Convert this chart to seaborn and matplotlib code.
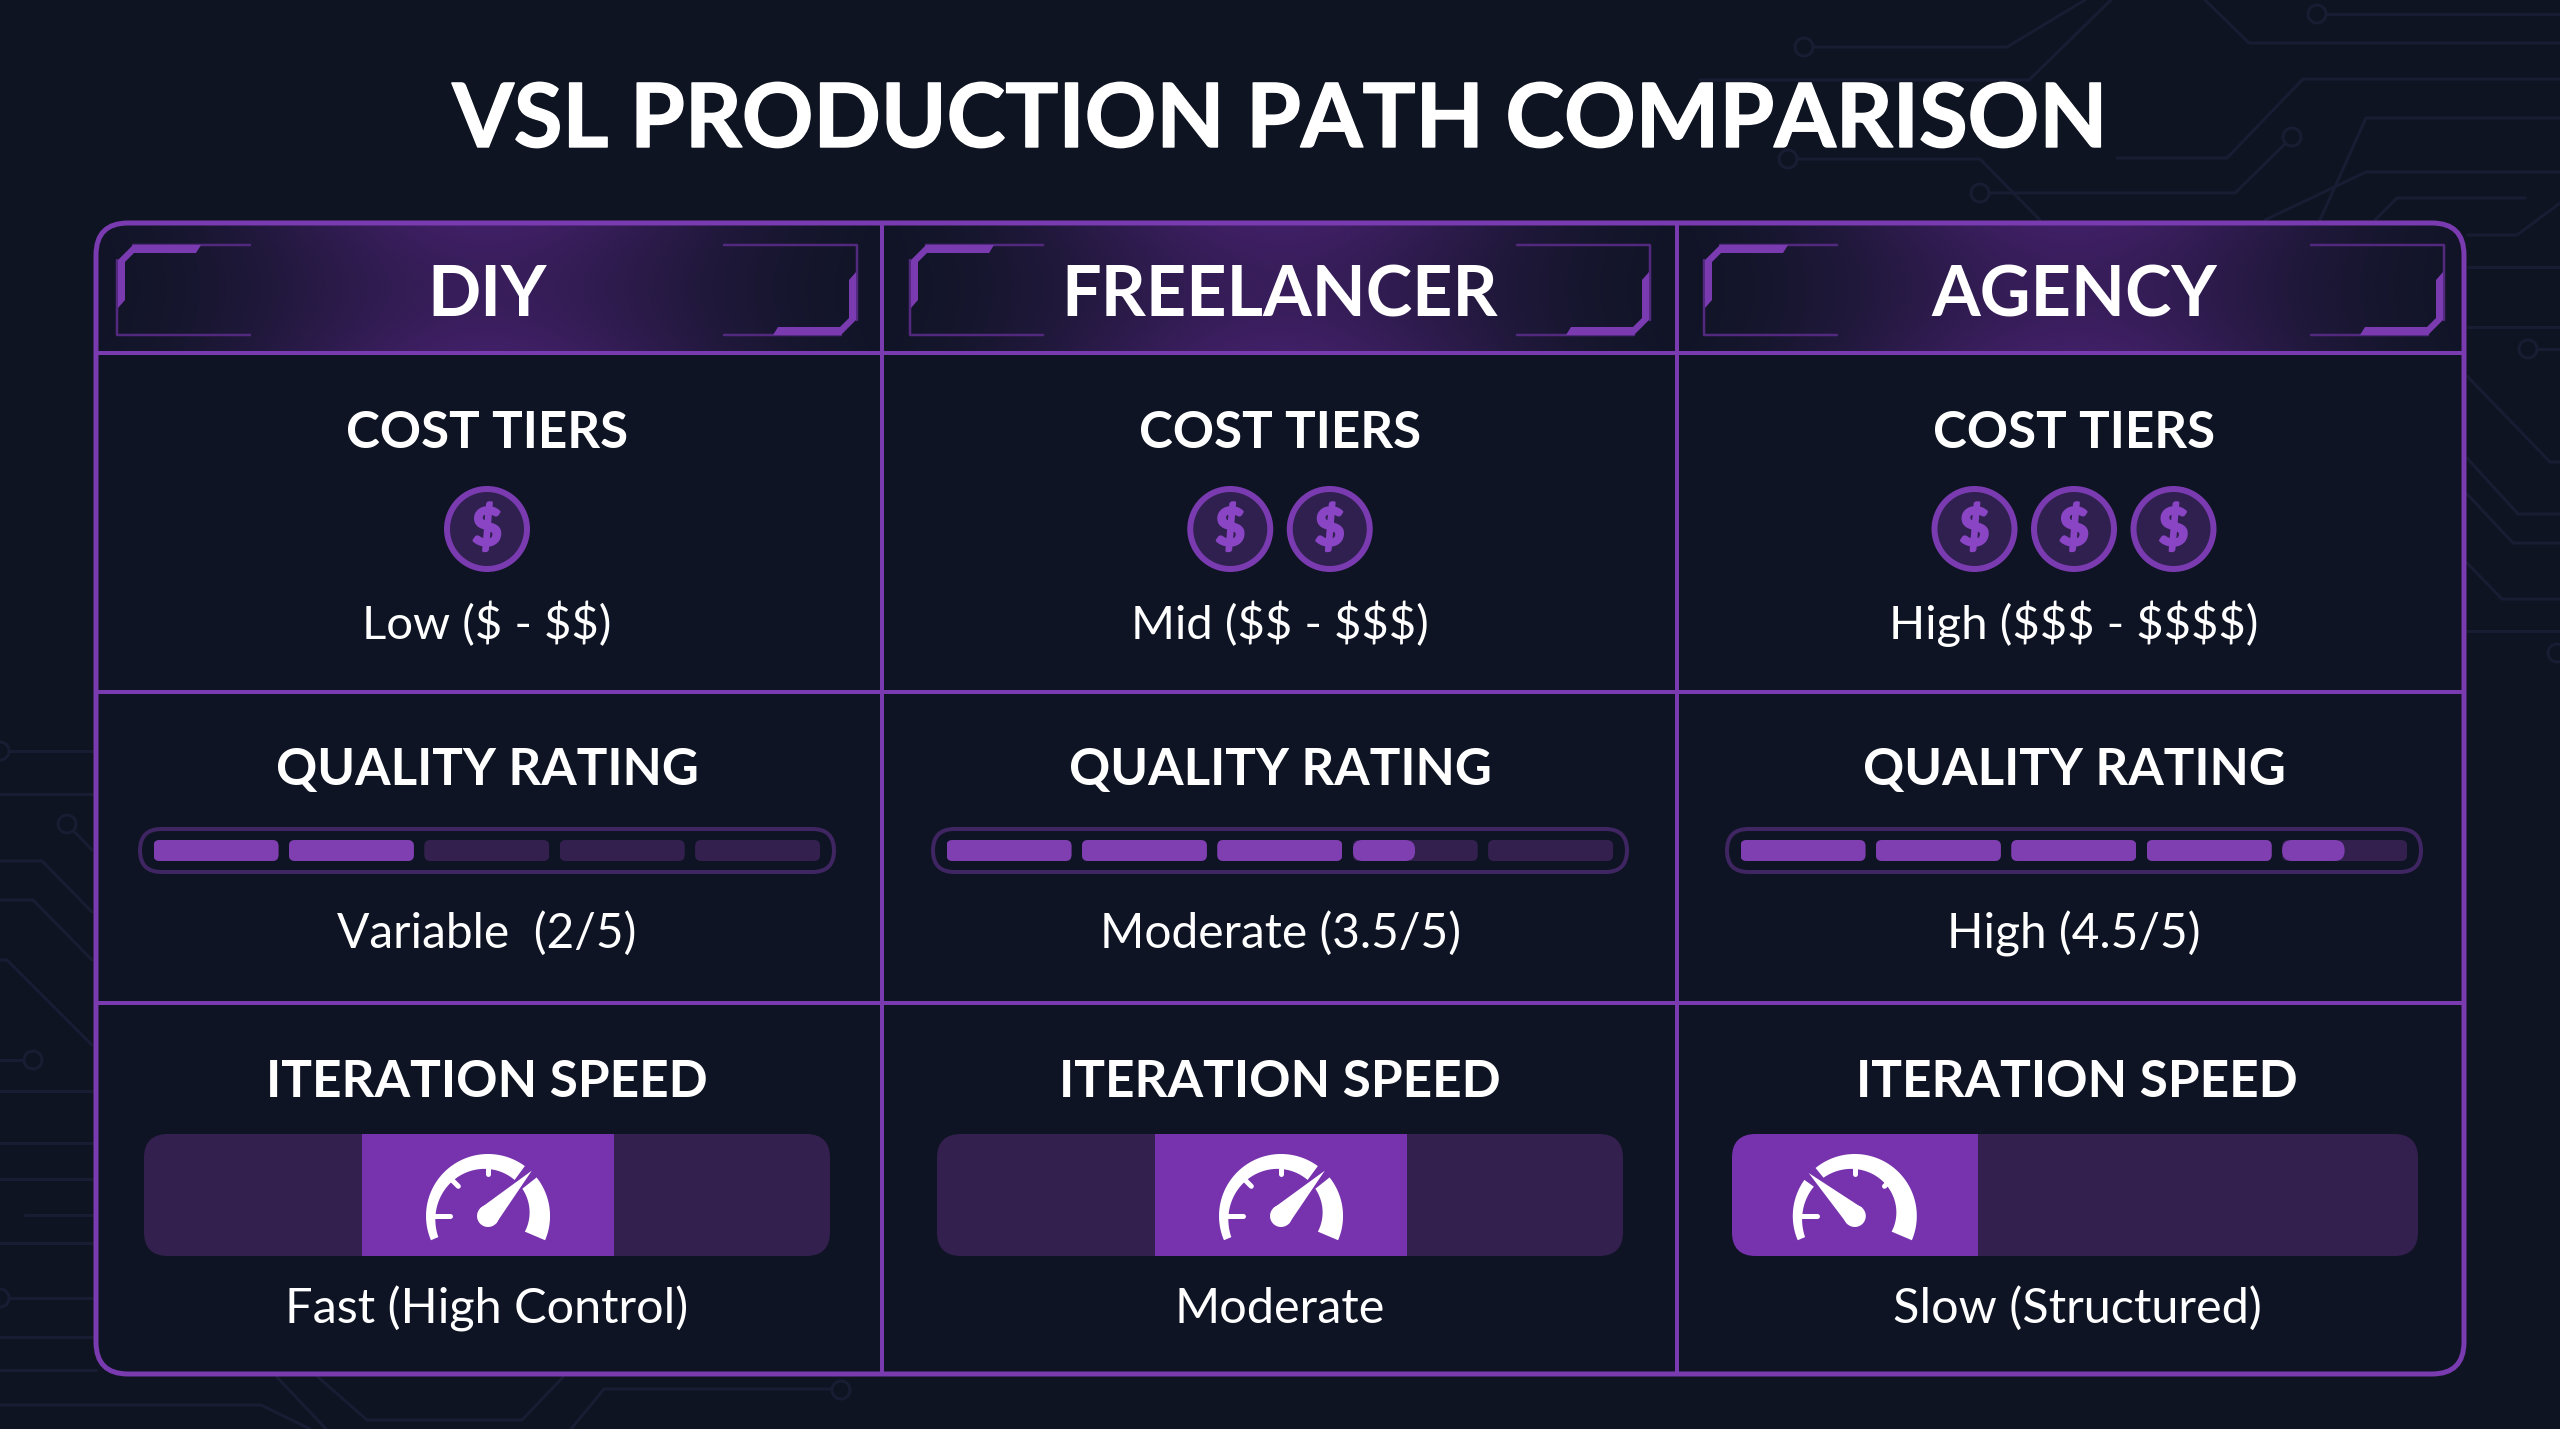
import numpy as np
import seaborn as sns
import matplotlib.pyplot as plt
import matplotlib.patheffects as pe
from matplotlib.patches import FancyBboxPatch, Polygon, Circle

# chart data
paths = ['DIY', 'FREELANCER', 'AGENCY']
cost_coins = [1, 2, 3]
cost_labels = ['Low ($ - $$)', 'Mid ($$ - $$$)', 'High ($$$ - $$$$)']
quality_scores = [2, 3.5, 4.5]
quality_labels = ['Variable  (2/5)', 'Moderate (3.5/5)', 'High (4.5/5)']
speed_start = [0.318, 0.318, 0.0]
speed_width = [0.367, 0.367, 0.358]
speed_needle = [46, 46, 137]
speed_labels = ['Fast (High Control)', 'Moderate', 'Slow (Structured)']

BG = '#0e1421'
CELL = '#0e1423'
PURPLE = '#7a3bb0'
BLOCK = '#7733ae'
FILL = '#7f3fb0'
DARK = '#34204f'
TRACE = '#191d33'
WHITE = '#ffffff'
PX = 0.72  # line widths given in pixels at dpi 100

sns.set_theme(style='dark')
plt.rcParams['font.family'] = ['Lato', 'DejaVu Sans']

fig = plt.figure(figsize=(25.6, 14.29), dpi=100, facecolor=BG)
ax = fig.add_axes([0, 0, 1, 1], facecolor=BG, zorder=1)
top_ax = fig.add_axes([0, 0, 1, 1], facecolor='none', zorder=6)
W, H = 2560, 1429


def to_fig(x0, y0, x1, y1):
    return [x0 / W, 1 - y1 / H, (x1 - x0) / W, (y1 - y0) / H]


# faint circuit traces behind the table
traces = [
    [(1804, 47), (2007, 47), (2085, 0)], [(1700, 80), (2029, 80), (2111, 0)],
    [(2205, 0), (2249, 43), (2560, 43)], [(2317, 14), (2560, 14)],
    [(2117, 158), (2227, 158), (2303, 79), (2560, 79)],
    [(2320, 220), (2366, 118), (2560, 118)],
    [(2292, 137), (2235, 193), (1980, 193)],
    [(2265, 220), (2366, 172), (2560, 172)],
    [(2375, 220), (2397, 198), (2525, 198)],
    [(1788, 159), (1980, 159), (2040, 220)],
    [(2468, 235), (2517, 235), (2560, 203)], [(2468, 267), (2560, 267)],
    [(2468, 327), (2560, 327)], [(2528, 349), (2560, 349)],
    [(2467, 376), (2550, 462), (2560, 462)],
    [(2467, 458), (2518, 514), (2560, 514)],
    [(2467, 494), (2513, 543), (2560, 543)],
    [(2467, 563), (2502, 599), (2560, 599)], [(2467, 631), (2560, 631)],
    [(0, 751), (93, 751)], [(0, 794), (93, 794)], [(67, 824), (92, 850)],
    [(0, 861), (42, 861), (92, 912)], [(0, 900), (33, 900), (92, 960)],
    [(0, 960), (7, 960), (92, 1045)], [(0, 1060), (33, 1060)],
    [(0, 1091), (92, 1091)], [(0, 1143), (92, 1143)], [(0, 1179), (92, 1179)],
    [(25, 1215), (92, 1215)], [(0, 1243), (92, 1243)], [(0, 1298), (92, 1298)],
    [(0, 1337), (92, 1337)], [(0, 1370), (96, 1370)],
    [(0, 1405), (261, 1405), (310, 1429)], [(277, 1377), (326, 1429)],
    [(318, 1377), (367, 1420), (522, 1420), (563, 1377)],
    [(571, 1429), (604, 1389), (833, 1389)],
]
for t in traces:
    xs, ys = zip(*t)
    ax.plot(xs, ys, color=TRACE, lw=3 * PX, zorder=1)
for nx, ny in [(1804, 47), (2317, 14), (2292, 137), (1980, 193), (1788, 159),
               (2528, 349), (2557, 653), (67, 824), (33, 1060), (0, 751),
               (0, 1298), (841, 1390)]:
    ax.add_patch(Circle((nx, ny), 9, fc=BG, ec=TRACE, lw=3 * PX, zorder=1.5))

# table frame, header glow and grid
left, right, top, bottom = 96, 2464, 223, 1374
head_line = 353
row_lines = [692, 1003]
col_lines = [882, 1677]
col_cx = [487, 1280, 2074]
track_cx = [487, 1280, 2075]

frame_fill = FancyBboxPatch((left, top), right - left, bottom - top,
                            boxstyle='round,pad=0,rounding_size=32',
                            fc=CELL, ec='none', zorder=2)
ax.add_patch(frame_fill)

edges = [left] + col_lines + [right]
for i, cx in enumerate(col_cx):
    xx = np.linspace(edges[i], edges[i + 1], 400)
    alpha = np.exp(-((xx - cx) / 240.0) ** 2)
    yy = np.linspace(top, head_line, 60)
    fade = 0.82 + 0.18 * ((yy - top) / (head_line - top) - 0.5) ** 2 * 4
    rgba = np.zeros((60, 400, 4))
    rgba[..., 0] = 0x42 / 255
    rgba[..., 1] = 0x20 / 255
    rgba[..., 2] = 0x68 / 255
    rgba[..., 3] = np.outer(fade, alpha)
    img = ax.imshow(rgba, extent=(edges[i], edges[i + 1], head_line, top),
                    aspect='auto', zorder=2.1, interpolation='bilinear')
    img.set_clip_path(frame_fill)

for y in [head_line] + row_lines:
    ax.plot([left, right], [y, y], color=PURPLE, lw=4 * PX, zorder=3,
            solid_capstyle='butt')
for x in col_lines:
    ax.plot([x, x], [top, bottom], color=PURPLE, lw=4 * PX, zorder=3,
            solid_capstyle='butt')
ax.add_patch(FancyBboxPatch((left, top), right - left, bottom - top,
                            boxstyle='round,pad=0,rounding_size=32',
                            fc='none', ec=PURPLE, lw=5 * PX, zorder=3.2))


def bracket(cx, cy, s):
    # corner ornament, s=-1 mirrors it through the header centre
    thin = [(-237, 45), (-370, 45), (-370, -30)]
    top_thin = [(-354, -45), (-237, -45)]
    thick = [(-369, -30), (-354, -45), (-286, -45), (-291, -37), (-353, -37),
             (-362, -28), (-362, 10), (-369, 18)]
    pts = [(cx + s * a, cy + s * b) for a, b in thin]
    ax.plot(*zip(*pts), color='#52297e', lw=2.5 * PX, zorder=4)
    pts = [(cx + s * a, cy + s * b) for a, b in top_thin]
    ax.plot(*zip(*pts), color='#52297e', lw=2.5 * PX, zorder=4)
    ax.add_patch(Polygon([(cx + s * a, cy + s * b) for a, b in thick],
                         fc=PURPLE, ec='none', zorder=4.1))


def gauge(cx, cy, needle):
    r_out = 62
    angles = np.radians(np.linspace(203, -23, 240))
    deg = np.degrees(angles)
    thick = 8 + (203 - deg) / 226 * 14
    for part in (deg > needle + 7, deg < needle - 7):
        a = angles[part]
        t = thick[part]
        outer = np.c_[cx + r_out * np.cos(a), cy - r_out * np.sin(a)]
        inner = np.c_[cx + (r_out - t) * np.cos(a), cy - (r_out - t) * np.sin(a)]
        top_ax.add_patch(Polygon(np.r_[outer, inner[::-1]], fc=WHITE, ec='none', zorder=7))
    for tick in (180, 135, 90, 45):
        if abs(tick - needle) < 20:
            continue
        a = np.radians(tick)
        length = 20 if tick == 180 else 16
        top_ax.plot([cx + 55 * np.cos(a), cx + (62 - length - 4) * np.cos(a)],
                    [cy - 55 * np.sin(a), cy - (62 - length - 4) * np.sin(a)],
                    color=WHITE, lw=5 * PX, zorder=7)
    a = np.radians(needle)
    tip = (cx + 63 * np.cos(a), cy - 63 * np.sin(a))
    hub_r = 11
    side = (hub_r * np.cos(a + np.pi / 2), -hub_r * np.sin(a + np.pi / 2))
    top_ax.add_patch(Polygon([tip, (cx + side[0], cy + side[1]),
                              (cx - side[0], cy - side[1])], fc=WHITE, ec='none', zorder=7))
    top_ax.add_patch(Circle((cx, cy), hub_r, fc=WHITE, ec='none', zorder=7))


def clip_round(patch, x0, y0, x1, y1, r):
    shape = FancyBboxPatch((x0, y0), x1 - x0, y1 - y0,
                           boxstyle=f'round,pad=0,rounding_size={r}',
                           transform=ax.transData)
    patch.set_clip_path(shape)


def inset(x0, y0, x1, y1):
    a = fig.add_axes(to_fig(x0, y0, x1, y1), facecolor='none', zorder=5)
    a.set_axis_off()
    return a


def hbar(a, value, start, color):
    sns.barplot(x=[value], y=[0], orient='h', left=start, width=1, color=color,
                saturation=1, errorbar=None, linewidth=0, ax=a)
    return a.patches[-1]


SEG_PITCH = 135.4
SEG_W = 125.0
for i, name in enumerate(paths):
    cx = col_cx[i]

    ax.text(cx, 316, name, color=WHITE, fontsize=50.5, fontweight='bold',
            ha='center', va='baseline', zorder=6)
    bracket(cx, 290, 1)
    bracket(cx, 290, -1)

    # cost tiers
    ax.text(cx, 448, 'COST TIERS', color=WHITE, fontsize=36.8, fontweight='bold',
            ha='center', va='baseline', zorder=6)
    n = cost_coins[i]
    for k in range(n):
        coin_x = cx + (k - (n - 1) / 2) * 99.5
        ax.add_patch(Circle((coin_x, 529), 40, fc='#30204f', ec=PURPLE,
                            lw=6 * PX, zorder=5))
        ax.text(coin_x, 529, '$', color='#8a45c4', fontsize=37, fontweight='bold',
                ha='center', va='center', zorder=6,
                path_effects=[pe.withStroke(linewidth=2, foreground='#8a45c4')])
    ax.text(cx, 639, cost_labels[i], color=WHITE, fontsize=34,
            ha='center', va='baseline', zorder=6)

    # quality rating, one bar per segment of the five point scale
    ax.text(cx, 785, 'QUALITY RATING', color=WHITE, fontsize=36.8, fontweight='bold',
            ha='center', va='baseline', zorder=6)
    t0 = cx - 347
    ax.add_patch(FancyBboxPatch((t0, 829), 694, 43,
                                boxstyle='round,pad=0,rounding_size=21.5',
                                fc='none', ec='#3f2561', lw=4 * PX, zorder=4))
    seg_x0 = t0 + 13.5
    qa = inset(seg_x0, 840, seg_x0 + 5 * SEG_PITCH, 861)
    for k in range(5):
        px0 = seg_x0 + k * SEG_PITCH
        bar = hbar(qa, SEG_W / SEG_PITCH, k, DARK)
        clip_round(bar, px0, 840, px0 + SEG_W, 861, 6)
        part = min(max(quality_scores[i] - k, 0), 1)
        if part > 0:
            bar = hbar(qa, part * SEG_W / SEG_PITCH, k, FILL)
            clip_round(bar, px0, 840, px0 + part * SEG_W, 861, 6 if part == 1 else 10)
    qa.set_xlim(0, 5)
    qa.set_ylim(0.5, -0.5)
    qa.set_axis_off()
    ax.text(cx, 948, quality_labels[i], color=WHITE, fontsize=34.5,
            ha='center', va='baseline', zorder=6)

    # iteration speed
    sx = track_cx[i] + (2 if i == 2 else 0)
    ax.text(sx, 1097, 'ITERATION SPEED', color=WHITE, fontsize=37, fontweight='bold',
            ha='center', va='baseline', zorder=6)
    s0, s1 = track_cx[i] - 343, track_cx[i] + 343
    sa = inset(s0, 1134, s1, 1256)
    bar = hbar(sa, 1.0, 0.0, DARK)
    clip_round(bar, s0, 1134, s1, 1256, 24)
    bar = hbar(sa, speed_width[i], speed_start[i], BLOCK)
    clip_round(bar, s0, 1134, s1, 1256, 24)
    sa.set_xlim(0, 1)
    sa.set_ylim(0.5, -0.5)
    sa.set_axis_off()
    block_mid = s0 + (speed_start[i] + speed_width[i] / 2) * (s1 - s0)
    gauge(block_mid, 1216, speed_needle[i])
    ax.text(sx, 1323, speed_labels[i], color=WHITE, fontsize=35,
            ha='center', va='baseline', zorder=6)

ax.text(1280, 147, 'VSL PRODUCTION PATH COMPARISON', color=WHITE, fontsize=63.8,
        fontweight='bold', ha='center', va='baseline', zorder=6,
        path_effects=[pe.withStroke(linewidth=1, foreground=WHITE)])

for a in (ax, top_ax):
    a.set_xlim(0, W)
    a.set_ylim(H, 0)
    a.set_axis_off()
fig.savefig('out.png', dpi=100, facecolor=BG)
